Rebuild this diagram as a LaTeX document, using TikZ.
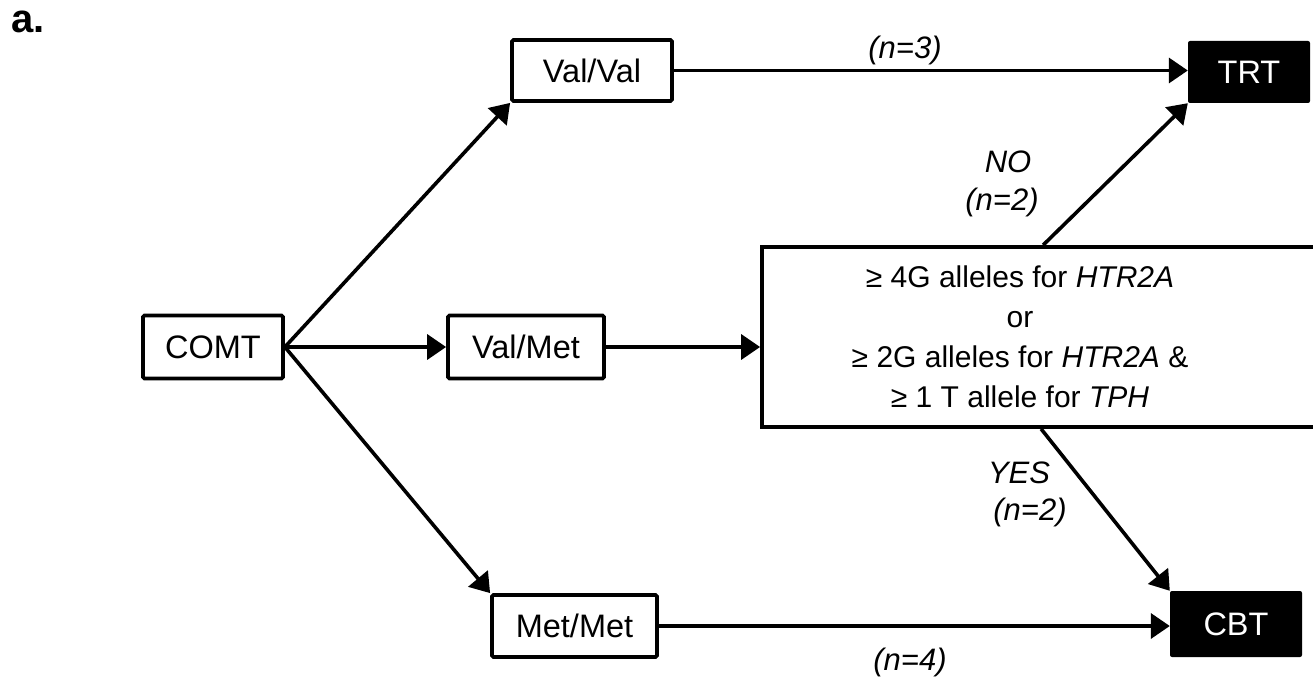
\documentclass[tikz,border=0pt]{standalone}
\usepackage{fontspec}
\setmainfont{Liberation Sans}
\usetikzlibrary{arrows.meta,calc}
\begin{document}
\begin{tikzpicture}[x=1pt,y=-1pt,
  txt/.style={font=\fontsize{32.5}{38}\selectfont},
  gbox/.style={draw=black,line width=3.8pt,rounded corners=1.5pt,inner sep=0pt,txt},
  obox/.style={fill=black,text=white,rounded corners=2pt,inner sep=0pt,txt},
  conn/.style={line width=3.6pt,-{Triangle[length=19pt,width=25pt]}},
  lab/.style={font=\fontsize{31}{37}\selectfont\itshape,inner sep=0pt}]
\clip (0,0) rectangle (1313,679);
\fill[white] (0,0) rectangle (1313,679);
\node[anchor=base west,inner sep=0pt,font=\fontsize{40}{42}\selectfont\bfseries] (tag) at (11,33) {a.};
\node[gbox,minimum width=140pt,minimum height=63pt] (comt) at (213,347) {COMT};
\node[gbox,minimum width=160pt,minimum height=61pt] (valval) at (592,70.5) {Val/Val};
\node[gbox,minimum width=156pt,minimum height=63pt] (valmet) at (526,347) {Val/Met};
\node[gbox,minimum width=165pt,minimum height=62pt] (metmet) at (574.5,626) {Met/Met};
\node[obox,minimum width=122pt,minimum height=62pt] (trt) at (1249,72) {TRT};
\node[obox,minimum width=132pt,minimum height=66pt] (cbt) at (1236,624) {CBT};
\node[draw=black,line width=3.8pt,inner sep=0pt,minimum width=560pt,minimum height=180pt] (big) at (1042,337) {};
\node[align=center,inner sep=0pt,font=\fontsize{30}{40}\selectfont] (bigtxt) at (1020,337)
  {≥ 4G alleles for \textit{HTR2A}\\or\\≥ 2G alleles for \textit{HTR2A} \&\\≥ 1 T allele for \textit{TPH}};
\coordinate (nofrom) at ($(big.north west)+(283,0)$);
\coordinate (yesfrom) at ($(big.south west)+(281,0)$);
\draw[conn] (comt.east) -- (valval.south west);
\draw[conn] (comt.east) -- (valmet.west);
\draw[conn] (comt.east) -- (metmet.north west);
\draw[conn] (valval.east) -- (valval.east -| trt.west);
\draw[conn] (valmet.east) -- (valmet.east -| big.west);
\draw[conn] (metmet.east) -- (metmet.east -| cbt.west);
\draw[conn] (nofrom) -- (trt.south west);
\draw[conn] (yesfrom) -- (cbt.north west);
\node[lab] (n3) at (905,50) {(n=3)};
\node[lab] (n4) at (910,662) {(n=4)};
\node[lab] (no) at (1008,162) {NO};
\node[lab] (no2) at (1002,202) {(n=2)};
\node[lab] (yes) at (1019,473) {YES};
\node[lab] (yes2) at (1030,512) {(n=2)};
\end{tikzpicture}
\end{document}
